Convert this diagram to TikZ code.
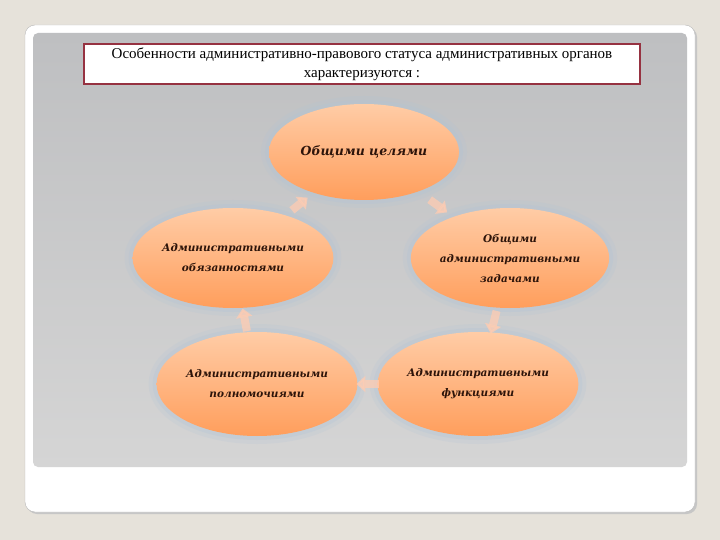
\documentclass[tikz,border=0pt]{standalone}
\usepackage{fontspec}
\setmainfont{Liberation Serif}
\newfontfamily\ellfont{DejaVu Serif}
\usetikzlibrary{shapes.geometric,arrows.meta,calc}

\definecolor{frame}{RGB}{150,50,65}
\definecolor{ellTop}{RGB}{255,204,166}
\definecolor{ellBot}{RGB}{255,158,92}
\definecolor{pfeil}{RGB}{255,204,178}
\definecolor{inkbrown}{RGB}{45,20,10}
\definecolor{halo}{RGB}{175,195,215}
\definecolor{paper}{RGB}{230,226,218}

\begin{document}
\begin{tikzpicture}[
	x = 1pt, y = -1pt,
	goal/.style = {ellipse, inner sep = 0pt, top color = ellTop, bottom color = ellBot,
		preaction = {draw = halo, line width = 16pt, opacity = 0.18},
		preaction = {draw = halo, line width = 8pt, opacity = 0.25},
		align = center, text = inkbrown,
		font = \ellfont\bfseries\itshape\fontsize{10.5}{20}\selectfont},
	cyc/.style = {line width = 8pt, draw = pfeil, opacity = 0.75,
		-{Triangle[width = 16pt, length = 9pt]}}
	]
	% slide
	\useasboundingbox (0,0) rectangle (720,540);
	\fill[paper] (0,0) rectangle (720,540);
	\fill[gray!45, rounded corners = 10pt] (27,27) rectangle (697,514);
	\draw[gray!55, fill = white, rounded corners = 10pt] (25,25) rectangle (695,512);
	\shade[rounded corners = 5pt, top color = {rgb,255:red,190;green,191;blue,193},
		bottom color = {rgb,255:red,213;green,213;blue,213}] (33,33) rectangle (687,467);

	% heading
	\node[draw = frame, line width = 2.5pt, fill = white, minimum width = 556pt,
		minimum height = 39pt, align = center,
		font = \fontsize{15}{19}\selectfont] (head) at (362,64)
		{Особенности административно-правового статуса административных органов\\характеризуются :};

	% cycle
	\node[goal, minimum width = 190pt, minimum height = 96pt,
		font = \ellfont\bfseries\itshape\fontsize{12.5}{20}\selectfont] (aims) at (364,152) {Общими целями};
	\node[goal, minimum width = 194pt, minimum height = 100pt] (tasks) at (510,258)
		{Общими\\административными\\задачами};
	\node[goal, minimum width = 187pt, minimum height = 104pt] (funcs) at (478,384)
		{Административными\\функциями};
	\node[goal, minimum width = 185pt, minimum height = 104pt] (powers) at (257,384)
		{Административными\\полномочиями};
	\node[goal, minimum width = 194pt, minimum height = 100pt] (duties) at (233,258)
		{Административными\\обязанностями};

	\draw[cyc] ($(aims)!0.45!(tasks)$) -- ($(aims)!0.57!(tasks)$);
	\draw[cyc] ($(tasks)!0.42!(funcs)$) -- ($(tasks)!0.60!(funcs)$);
	\draw[cyc] ($(funcs)!0.45!(powers)$) -- ($(funcs)!0.55!(powers)$);
	\draw[cyc] ($(powers)!0.42!(duties)$) -- ($(powers)!0.60!(duties)$);
	\draw[cyc] ($(duties)!0.45!(aims)$) -- ($(duties)!0.57!(aims)$);
\end{tikzpicture}
\end{document}
